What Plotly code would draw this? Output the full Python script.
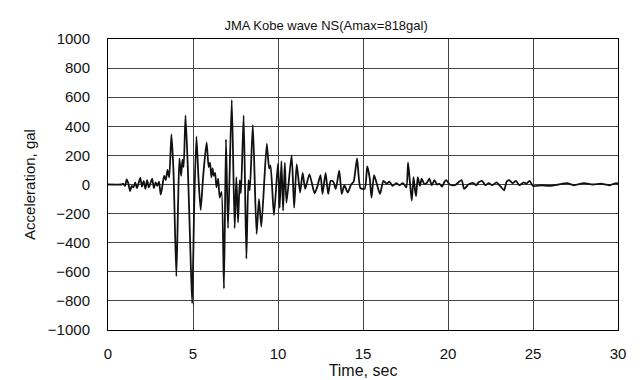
import plotly.graph_objects as go

time_s = [
    0.0, 0.8, 0.9, 1.0, 1.1, 1.2, 1.3, 1.4, 1.5, 1.6, 1.7, 1.8, 1.9, 2.0, 2.1, 2.2, 2.3, 2.4, 2.5,
    2.6, 2.7, 2.8, 2.9, 3.0, 3.1, 3.2, 3.3, 3.4, 3.5, 3.6, 3.73, 3.85, 4.02, 4.12, 4.2, 4.3,
    4.38, 4.45, 4.56, 4.7, 4.82, 4.95, 5.07, 5.2, 5.32, 5.45, 5.6, 5.8, 5.92, 6.0, 6.08, 6.15,
    6.22, 6.3, 6.38, 6.48, 6.57, 6.68, 6.82, 6.94, 7.06, 7.28, 7.45, 7.55, 7.65, 7.75, 7.82,
    7.98, 8.14, 8.26, 8.34, 8.52, 8.74, 8.88, 9.02, 9.34, 9.48, 9.56, 9.76, 10.0, 10.1, 10.2,
    10.3, 10.4, 10.5, 10.8, 10.95, 11.1, 11.3, 11.45, 11.6, 11.85, 12.15, 12.3, 12.5, 12.62,
    12.8, 12.95, 13.1, 13.25, 13.4, 13.6, 13.75, 13.9, 14.1, 14.3, 14.45, 14.65, 14.85, 15.1,
    15.25, 15.4, 15.5, 15.65, 15.8, 16.0, 16.2, 16.4, 16.55, 16.75, 16.95, 17.15, 17.35, 17.55,
    17.65, 17.75, 17.87, 17.97, 18.05, 18.12, 18.22, 18.35, 18.45, 18.6, 18.75, 18.9, 19.05,
    19.2, 19.35, 19.5, 19.65, 19.8, 19.9, 20.1, 20.4, 20.8, 20.95, 21.2, 21.5, 21.65, 21.8,
    22.0, 22.2, 22.4, 22.6, 22.85, 23.1, 23.3, 23.45, 23.6, 23.8, 24.0, 24.2, 24.45, 24.6,
    24.8, 25.0, 25.5, 26.0, 26.5, 27.0, 27.4, 28.0, 28.5, 29.0, 29.5, 29.9, 30.0,
]

accel_gal = [
    0, 0, 5, -10, 35, 5, -45, -10, -20, 15, -25, 10, 45, -15, 25, -30, 30, -20, 10,
    40, -25, 15, -10, 20, -70, -10, 60, 30, 100, 50, 345, 100, -630, -150, 180, 60,
    170, 120, 475, 100, -350, -818, -150, 330, 50, -175, 60, 290, 120, 150, 50, 110,
    60, 80, -20, 40, -90, -50, -715, 310, -300, 580, -300, 50, -260, 30, -60,
    475, -510, 30, -40, 410, -340, -100, -290, 280, 110, 130, -210, 145, -160, 160,
    -180, 150, -125, 200, -160, 140, -55, 80, -30, 70, -60, -20, 65, -65,
    80, -65, 25, 20, -30, 95, -65, -5, -55, 0, 20, 180, -25, -30,
    125, 40, -90, 65, 10, -65, 25, 5, 20, -10, 10, -5, 10, -20,
    150, 30, -110, 50, -30, -80, 50, -10, 40, 5, 10, 40, -5,
    30, 0, 5, -15, 20, 30, 0, -5, 30, -30, 0, 10, -5, 15,
    25, -5, 10, -5, 15, -15, -40, 20, 30, 10, 25, -5, 15, 5,
    25, -10, -5, -10, 0, 10, -5, 10, 0, 5, -5, 10, 5,
]

y_ticks = [-1000, -800, -600, -400, -200, 0, 200, 400, 600, 800, 1000]
x_ticks = [0, 5, 10, 15, 20, 25, 30]

FONT = "Liberation Sans, Arial, sans-serif"

fig = go.Figure()
fig.add_trace(go.Scatter(
    x=time_s, y=accel_gal, mode="lines",
    line=dict(color="#111111", width=1.8, shape="spline", smoothing=0.6),
    showlegend=False, hoverinfo="skip",
))

fig.update_layout(
    width=640, height=380,
    margin=dict(l=100, r=30, t=31, b=58),
    paper_bgcolor="white", plot_bgcolor="white",
    font=dict(family=FONT, color="#111111"),
    title=dict(text="JMA Kobe wave NS(Amax=818gal)", x=0.497, xanchor="center",
               y=0.955, yanchor="middle", font=dict(size=13, family=FONT)),
)

fig.update_xaxes(
    range=[0, 30], tickvals=x_ticks, ticktext=[str(v) for v in x_ticks],
    showgrid=True, gridcolor="#444444", gridwidth=1,
    showline=True, linecolor="black", linewidth=1, mirror=True,
    ticks="outside", ticklen=10, tickcolor="rgba(0,0,0,0)",
    tickfont=dict(size=15, family=FONT),
    title=dict(text="Time, sec", font=dict(size=16, family=FONT), standoff=2),
    zeroline=False,
)
fig.update_yaxes(
    range=[-1000, 1000], tickvals=y_ticks,
    ticktext=[("\u2212" + str(-v)) if v < 0 else str(v) for v in y_ticks],
    showgrid=True, gridcolor="#444444", gridwidth=1,
    showline=True, linecolor="black", linewidth=1, mirror=True,
    ticks="outside", ticklen=14, tickcolor="rgba(0,0,0,0)",
    tickfont=dict(size=15, family=FONT),
    title=dict(text="Acceleration, gal", font=dict(size=15, family=FONT), standoff=8),
    zeroline=False,
)

fig.write_html("out.html")
